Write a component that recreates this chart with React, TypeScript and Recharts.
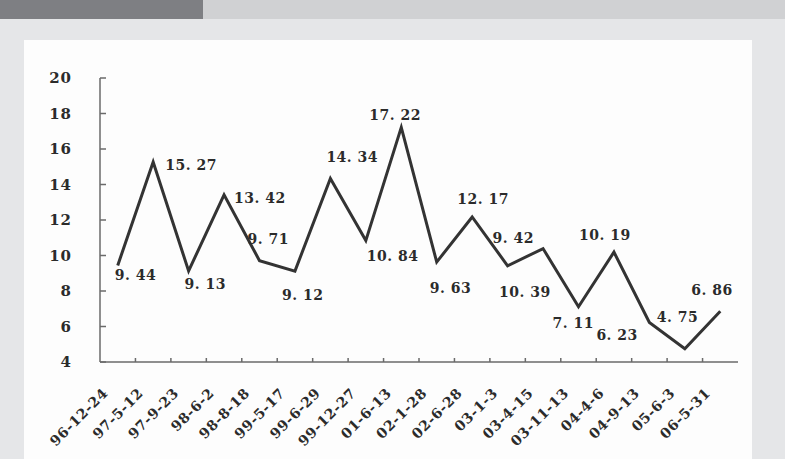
import React from 'react';
import { LineChart, Line, XAxis, YAxis, LabelList } from 'recharts';

const dates = [
  '96-12-24', '97-5-12', '97-9-23', '98-6-2', '98-8-18', '99-5-17',
  '99-6-29', '99-12-27', '01-6-13', '02-1-28', '02-6-28', '03-1-3',
  '03-4-15', '03-11-13', '04-4-6', '04-9-13', '05-6-3', '06-5-31',
];

const rates = [
  9.44, 15.27, 9.13, 13.42, 9.71, 9.12, 14.34, 10.84, 17.22,
  9.63, 12.17, 9.42, 10.39, 7.11, 10.19, 6.23, 4.75, 6.86,
];

const yTicks = [4, 6, 8, 10, 12, 14, 16, 18, 20];

// where each value label sits relative to its point (left edge, vertical centre)
const labelOffsets: [number, number][] = [
  [-3, 10], [12, 3], [-4, 13], [10, 3], [-12, -22], [-13, 24],
  [-4, -21], [1, 15], [-32, -12], [-7, 26], [-15, -18], [-15, -28],
  [-44, 43], [-26, 16], [-35, -17], [-53, 13], [-28, -32], [-29, -21],
];

const data = dates.map((d, i) => ({ date: d, rate: rates[i] }));

const W = 785;
const H = 459;
const PLOT_LEFT = 100;
const PLOT_RIGHT = 738;
const HALF_STEP = (PLOT_RIGHT - PLOT_LEFT) / dates.length / 2;
const TEXT = '#2b2b2b';
const AXIS = '#6a6a6a';
const FONT = '"DejaVu Serif", serif';

const fmt = (v: number) => v.toFixed(2).replace('.', '. ');

const XTick = ({ x, y, payload, index }: any) => (
  <g>
    {index < dates.length - 1 && (
      <line x1={x + HALF_STEP} y1={y} x2={x + HALF_STEP} y2={y - 4} stroke={AXIS} strokeWidth={1.5} />
    )}
    <text
      x={x - 9}
      y={y + 32}
      textAnchor="end"
      transform={`rotate(-45, ${x - 9}, ${y + 32})`}
      fontFamily={FONT}
      fontWeight="bold"
      fontSize={14}
      letterSpacing={0.6}
      fill={TEXT}
    >
      {payload.value}
    </text>
  </g>
);

const YTick = ({ x, y, payload }: any) => (
  <g>
    <line x1={x} y1={y} x2={x + 6} y2={y} stroke={AXIS} strokeWidth={1.5} />
    <text
      x={x - 28}
      y={y}
      dy={5}
      textAnchor="end"
      fontFamily={FONT}
      fontWeight="bold"
      fontSize={15}
      letterSpacing={1}
      fill={TEXT}
    >
      {payload.value}
    </text>
  </g>
);

const ValueLabel = ({ x, y, value, index }: any) => {
  const [dx, dy] = labelOffsets[index];
  return (
    <text
      x={x + dx}
      y={y + dy}
      dy={5}
      textAnchor="start"
      fontFamily={FONT}
      fontWeight="bold"
      fontSize={14}
      letterSpacing={0.5}
      fill={TEXT}
    >
      {fmt(value)}
    </text>
  );
};

export default function App() {
  return (
    <div style={{ position: 'absolute', left: 0, top: 0, width: W, height: H, background: '#e5e6e8', overflow: 'hidden' }}>
      <div style={{ position: 'absolute', left: 0, top: 0, width: 203, height: 19, background: '#7e7f83' }} />
      <div style={{ position: 'absolute', left: 203, top: 0, width: W - 203, height: 19, background: '#d0d1d3' }} />
      <div style={{ position: 'absolute', left: 24, top: 40, width: 728, height: H - 40, background: '#fdfdfd' }} />
      <div style={{ position: 'absolute', left: 0, top: 0 }}>
        <LineChart width={W} height={H} data={data} margin={{ top: 78, right: W - PLOT_RIGHT, bottom: 0, left: 40 }}>
          <XAxis
            dataKey="date"
            interval={0}
            padding={{ left: HALF_STEP, right: HALF_STEP }}
            height={97}
            tickSize={0}
            tickMargin={0}
            tickLine={false}
            axisLine={{ stroke: AXIS, strokeWidth: 1.5 }}
            tick={<XTick />}
          />
          <YAxis
            domain={[4, 20]}
            ticks={yTicks}
            width={60}
            tickSize={0}
            tickMargin={0}
            tickLine={false}
            axisLine={{ stroke: AXIS, strokeWidth: 1.5 }}
            tick={<YTick />}
          />
          <Line
            dataKey="rate"
            type="linear"
            stroke="#333333"
            strokeWidth={3}
            dot={false}
            isAnimationActive={false}
          >
            <LabelList dataKey="rate" content={<ValueLabel />} />
          </Line>
        </LineChart>
      </div>
    </div>
  );
}
